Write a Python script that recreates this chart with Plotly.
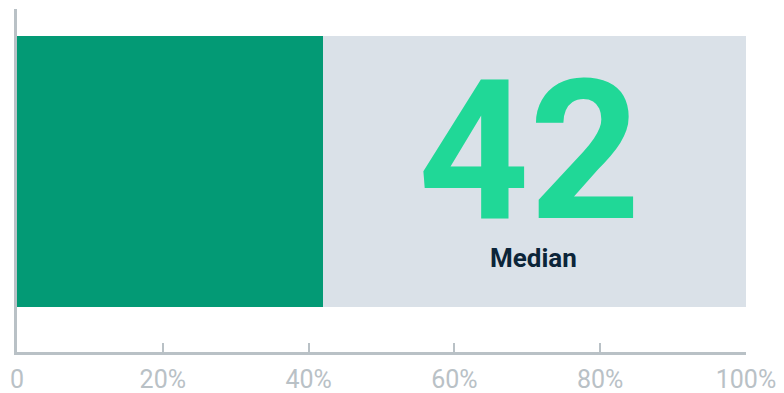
import plotly.graph_objects as go

# Single-metric horizontal bar: median share against a 0-100% track
metric_label = "Median"
median_value = 42
track_max = 100
tick_values = [0, 20, 40, 60, 80, 100]
tick_labels = ["0", "20%", "40%", "60%", "80%", "100%"]

GREEN = "#039a75"
TRACK = "#dae1e8"
BIG_TEXT = "#20d897"
DARK = "#0c2539"
AXIS = "#b9c1c6"
FONT = "Roboto"

fig = go.Figure()

# Grey background track (full range)
fig.add_trace(go.Bar(
    x=[track_max], y=[0.525], width=[0.79], orientation="h",
    marker=dict(color=TRACK, line=dict(width=0)),
    hoverinfo="skip", showlegend=False,
))
# Value bar
fig.add_trace(go.Bar(
    x=[median_value], y=[0.525], width=[0.79], orientation="h",
    marker=dict(color=GREEN, line=dict(width=0)),
    hoverinfo="skip", showlegend=False,
))

# Big value; the box is kept to the digit height so it does not run into the label below
fig.add_annotation(
    x=70.3, y=0.585, xref="x", yref="y", text=str(median_value),
    showarrow=False, xanchor="center", yanchor="middle",
    height=165, valign="middle",
    font=dict(family=FONT, size=194, color=BIG_TEXT, weight=700),
)
fig.add_annotation(
    x=70.8, y=0.275, xref="x", yref="y", text=metric_label,
    showarrow=False, xanchor="center", yanchor="middle",
    font=dict(family=FONT, size=26, color=DARK, weight=700),
)

fig.update_layout(
    width=784, height=393,
    margin=dict(l=17, r=38, t=9, b=41),
    paper_bgcolor="white", plot_bgcolor="white",
    barmode="overlay", bargap=0,
    xaxis=dict(
        range=[0, track_max], tickvals=tick_values, ticktext=tick_labels,
        showgrid=False, zeroline=False, automargin=False,
        showline=True, linecolor=AXIS, linewidth=3,
        ticks="inside", ticklen=9, tickwidth=2, tickcolor=AXIS,
        tickfont=dict(family=FONT, size=25, color=AXIS),
        ticklabelstandoff=3,
        fixedrange=True,
    ),
    yaxis=dict(
        range=[0, 1], showticklabels=False, showgrid=False, zeroline=False,
        automargin=False,
        showline=True, linecolor=AXIS, linewidth=3, ticks="",
        fixedrange=True,
    ),
)

fig.write_html("out.html")
